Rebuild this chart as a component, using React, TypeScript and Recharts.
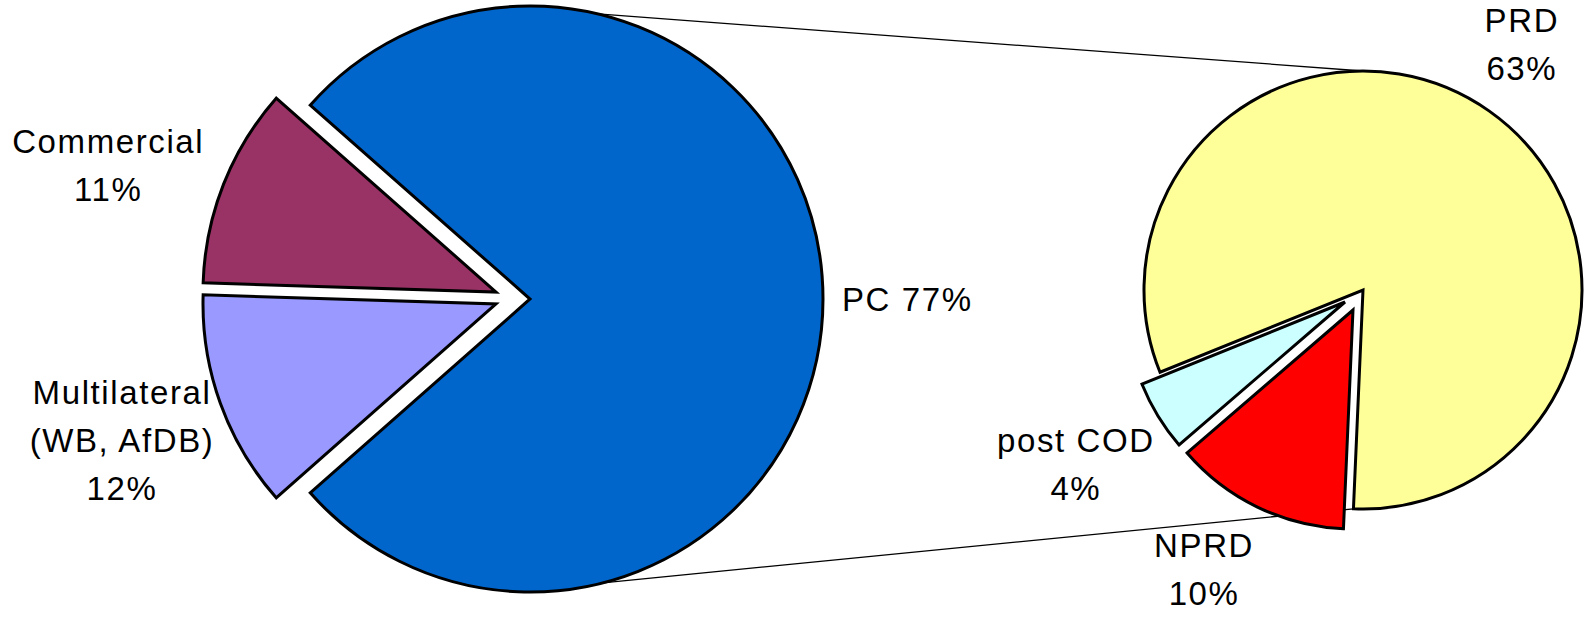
import React from 'react';
import { PieChart, Pie, Cell, Sector, Customized } from 'recharts';

// left pie: funding split
const mainNames = ['PC', 'Commercial', 'Multilateral'];
const mainValues = [77, 11, 12];
const mainHeads = ['PC', 'Commercial', 'Multilateral\n(WB, AfDB)'];

// right pie: breakdown of PC
const subNames = ['PRD', 'post COD', 'NPRD'];
const subValues = [63, 4, 10];
const subHeads = ['PRD', 'post COD', 'NPRD'];

const COLORS: Record<string, string> = {
  PC: '#0066CC',
  Commercial: '#993366',
  Multilateral: '#9999FF',
  PRD: '#FFFF99',
  'post COD': '#CCFFFF',
  NPRD: '#FF0000',
};

const W = 1586;
const H = 617;
const LEFT = { cx: 530, cy: 299, r: 293, start: -138.6 };
const RIGHT = { cx: 1363, cy: 290, r: 219, start: -92.5 };

// exploded slices are pulled out by this many px
const EXPLODE: Record<string, [number, number]> = {
  Commercial: [-34, -7],
  Multilateral: [-34, 5],
  'post COD': [-18, 12],
  NPRD: [-10, 20],
};

// label placement: distance from slice tip, angle nudge
const LABEL: Record<string, { r: number; da: number; anchor?: string; inline?: boolean }> = {
  PC: { r: 312, da: 0, anchor: 'start', inline: true },
  Commercial: { r: 408, da: 3.5 },
  Multilateral: { r: 398, da: 0.2 },
  PRD: { r: 293, da: 2.4 },
  'post COD': { r: 314, da: -0.4 },
  NPRD: { r: 299, da: -4.0 },
};

const FONT = '"Liberation Sans", Arial, sans-serif';
const FONT_SIZE = 33;
const LINE_H = 48;
const CAP = 24;

const mainData = mainNames.map((name, i) => ({ name, value: mainValues[i], head: mainHeads[i] }));
const subData = subNames.map((name, i) => ({ name, value: subValues[i], head: subHeads[i] }));

const rad = (d: number) => (d * Math.PI) / 180;
const polar = (cx: number, cy: number, r: number, deg: number) => ({
  x: cx + r * Math.cos(rad(deg)),
  y: cy - r * Math.sin(rad(deg)),
});

const renderLabel = (data: { name: string; value: number; head: string }[]) => (props: any) => {
  const { cx, cy, midAngle, innerRadius, outerRadius, startAngle, endAngle, index } = props;
  const item = data[index];
  const name = item.name;
  const off = EXPLODE[name];
  const ox = cx + (off ? off[0] : 0);
  const oy = cy + (off ? off[1] : 0);
  const cfg = LABEL[name];
  const p = polar(ox, oy, cfg.r, midAngle + cfg.da);
  const pct = `${item.value}%`;
  const lines = cfg.inline ? [`${item.head} ${pct}`] : [...item.head.split('\n'), pct];
  const first = p.y - ((lines.length - 1) * LINE_H) / 2 + CAP / 2;
  return (
    <g key={`lbl-${name}`}>
      {off && (
        <Sector
          cx={ox}
          cy={oy}
          innerRadius={innerRadius}
          outerRadius={outerRadius}
          startAngle={startAngle}
          endAngle={endAngle}
          fill={COLORS[name]}
          stroke="#000"
          strokeWidth={3}
        />
      )}
      <text
        x={p.x}
        y={first}
        textAnchor={cfg.anchor || 'middle'}
        fill="#000"
        fontFamily={FONT}
        fontSize={FONT_SIZE}
        letterSpacing="1.6px"
      >
        {lines.map((l, i) => (
          <tspan key={i} x={p.x} y={first + i * LINE_H}>
            {l}
          </tspan>
        ))}
      </text>
    </g>
  );
};

// the two connector lines between the pies
const Connectors = () => {
  const a = polar(LEFT.cx, LEFT.cy, LEFT.r, 76.6);
  const b = polar(RIGHT.cx, RIGHT.cy, RIGHT.r, 90);
  const c = polar(LEFT.cx, LEFT.cy, LEFT.r, -75.6);
  const d = polar(RIGHT.cx, RIGHT.cy, RIGHT.r, RIGHT.start);
  return (
    <g>
      <line x1={a.x} y1={a.y} x2={b.x} y2={b.y} stroke="#000" strokeWidth={1.3} />
      <line x1={c.x} y1={c.y} x2={d.x} y2={d.y} stroke="#000" strokeWidth={1.3} />
    </g>
  );
};

export default function App() {
  return (
    <div style={{ position: 'absolute', left: 0, top: 0, width: W, height: H, background: '#fff' }}>
      <PieChart width={W} height={H} margin={{ top: 0, right: 0, bottom: 0, left: 0 }}>
        <Customized component={<Connectors />} />
        <Pie
          data={mainData}
          dataKey="value"
          nameKey="name"
          cx={LEFT.cx}
          cy={LEFT.cy}
          innerRadius={0}
          outerRadius={LEFT.r}
          startAngle={LEFT.start}
          endAngle={LEFT.start + 360}
          stroke="#000"
          strokeWidth={3}
          label={renderLabel(mainData)}
          labelLine={false}
          isAnimationActive={false}
        >
          {mainData.map((d) => (
            <Cell
              key={d.name}
              fill={EXPLODE[d.name] ? 'none' : COLORS[d.name]}
              stroke={EXPLODE[d.name] ? 'none' : '#000'}
            />
          ))}
        </Pie>
        <Pie
          data={subData}
          dataKey="value"
          nameKey="name"
          cx={RIGHT.cx}
          cy={RIGHT.cy}
          innerRadius={0}
          outerRadius={RIGHT.r}
          startAngle={RIGHT.start}
          endAngle={RIGHT.start + 360}
          stroke="#000"
          strokeWidth={3}
          label={renderLabel(subData)}
          labelLine={false}
          isAnimationActive={false}
        >
          {subData.map((d) => (
            <Cell
              key={d.name}
              fill={EXPLODE[d.name] ? 'none' : COLORS[d.name]}
              stroke={EXPLODE[d.name] ? 'none' : '#000'}
            />
          ))}
        </Pie>
      </PieChart>
    </div>
  );
}
